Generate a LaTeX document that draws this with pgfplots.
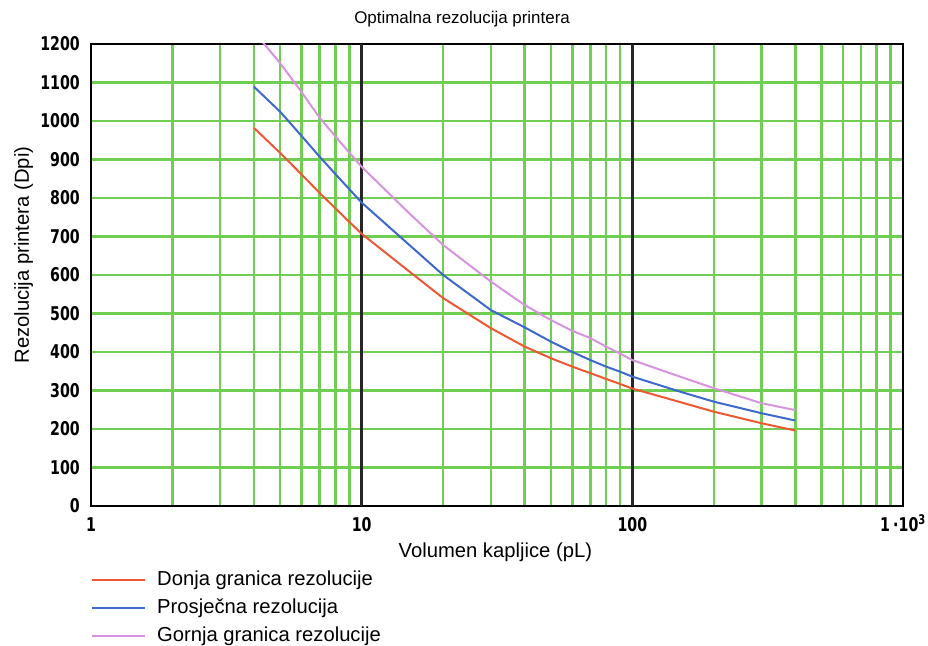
\documentclass[border=0pt]{standalone}
\usepackage{fontspec}
\setmainfont{Liberation Sans}
\newfontfamily\tickfont[FakeStretch=0.75]{DejaVu Sans}
\usepackage{pgfplots}
\pgfplotsset{compat=1.18}

\definecolor{gridgreen}{RGB}{112,206,82}
\definecolor{lowred}{RGB}{236,88,52}
\definecolor{avgblue}{RGB}{62,104,204}
\definecolor{toppink}{RGB}{214,148,222}

\begin{document}
\begin{tikzpicture}
\begin{axis}[
  scale only axis, width=812bp, height=462bp,
  xmode=log, xmin=1, xmax=1000, ymin=0, ymax=1200,
  xtick={1,10,100,1000},
  xticklabels={1,10,100,{1\thinspace·10\textsuperscript{3}}},
  minor xtick={2,3,4,5,6,7,8,9,20,30,40,50,60,70,80,90,200,300,400,500,600,700,800,900},
  ytick={0,100,...,1200},
  major tick length=0pt, minor tick length=0pt,
  ymajorgrids, xminorgrids, xmajorgrids=false,
  every axis grid/.style={gridgreen, line width=2.6bp},
  every major grid/.style={gridgreen, line width=2.6bp},
  every minor grid/.style={gridgreen, line width=2.6bp},
  extra x ticks={10,100}, extra x tick labels={},
  extra x tick style={grid=major,
    every axis grid/.style={black!85, line width=3bp},
    every major grid/.style={black!85, line width=3bp}},
  axis line style={black, line width=2.6bp},
  /pgf/number format/assume math mode=true,
  /pgf/number format/1000 sep={},
  yticklabel style={font=\tickfont\bfseries\fontsize{19}{19}\selectfont, anchor=east, inner sep=0pt, xshift=-11bp},
  xticklabel style={font=\tickfont\bfseries\fontsize{19}{19}\selectfont, anchor=base, inner sep=0pt, yshift=-25bp},
  title={Optimalna rezolucija printera},
  title style={font=\fontsize{17}{20}\selectfont, at={(axis description cs:0.457,1.0325)}, anchor=base},
  xlabel={Volumen kapljice (pL)},
  xlabel style={font=\fontsize{20.3}{23}\selectfont, at={(axis description cs:0.498,-0.1104)}, anchor=base},
  ylabel={Rezolucija printera (Dpi)},
  ylabel style={font=\fontsize{20.3}{23}\selectfont, at={(axis description cs:-0.0764,0.543)}, anchor=base, rotate=0},
  legend style={draw=none, fill=none, at={(axis description cs:0,-0.1405)}, anchor=north west,
    inner sep=0pt, row sep=10bp, font=\fontsize{20.3}{23}\selectfont,
    nodes={inner sep=0pt, text height=14bp, text depth=4bp}},
  legend cell align=left,
  legend image code/.code={\draw[#1, line width=2bp] (0bp,0bp) -- (53bp,0bp); \path (64bp,0bp);},
]
\addplot[lowred, line width=2bp] coordinates {
  (4,982) (5,917) (6,861) (7,813) (8,773) (9,738) (10,707) (15,609) (20,540)
  (30,462) (40,414) (50,384) (60,362) (70,345) (80,330) (90,317) (100,305)
  (150,270) (200,245) (300,215) (400,196)
};
\addlegendentry{Donja granica rezolucije}
\addplot[avgblue, line width=2bp] coordinates {
  (4,1089) (5,1024) (6,961) (7,907) (8,862) (9,823) (10,788) (15,678) (20,600)
  (30,509) (40,464) (50,427) (60,400) (70,379) (80,362) (90,349) (100,336)
  (150,297) (200,271) (300,241) (400,222)
};
\addlegendentry{Prosječna rezolucija}
\addplot[toppink, line width=2bp] coordinates {
  (4,1232) (5,1150) (6,1075) (7,1008) (8,960) (9,918) (10,881) (15,760) (20,678)
  (30,583) (40,522) (50,483) (60,455) (70,436) (80,414) (90,396) (100,379)
  (150,336) (200,306) (300,267) (400,249)
};
\addlegendentry{Gornja granica rezolucije}
\end{axis}
\pgfresetboundingbox
\path ([shift={(-91bp,-140bp)}]current axis.south west) rectangle ([shift={(837bp,506bp)}]current axis.south west);
\end{tikzpicture}
\end{document}
